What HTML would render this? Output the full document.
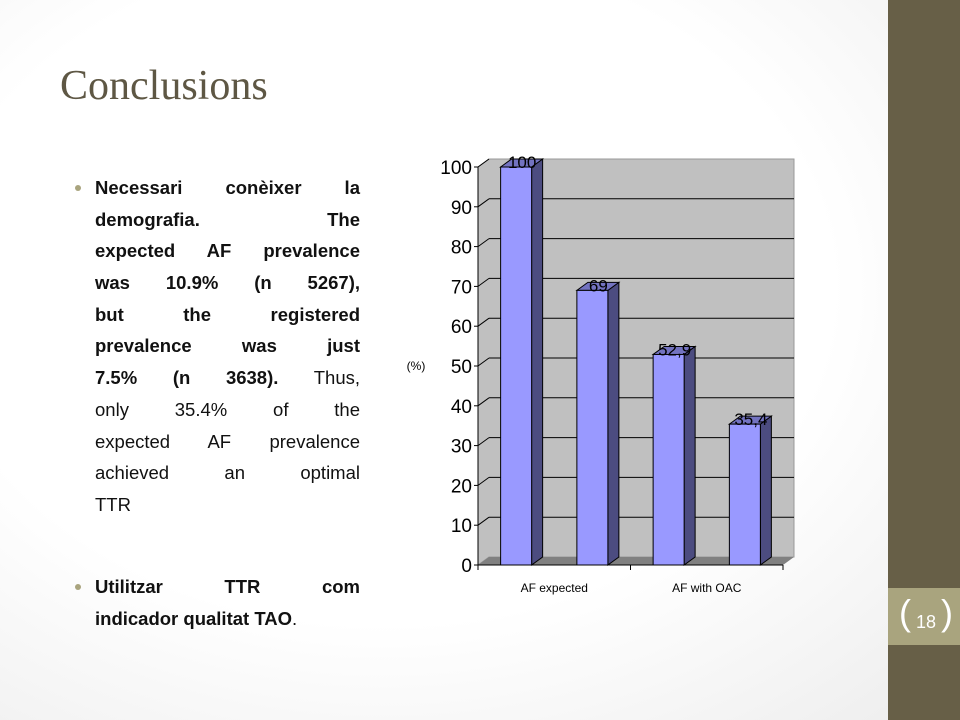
<!DOCTYPE html>
<html><head><meta charset="utf-8"><style>
body{margin:0;width:960px;height:720px;overflow:hidden;font-family:"Liberation Sans",sans-serif}
#slide{position:relative;width:960px;height:720px;background:radial-gradient(ellipse at 40% 40%,#ffffff 55%,#ececec 100%)}
#side{position:absolute;left:888px;top:0;width:72px;height:720px;background:#675f47}
#band{position:absolute;left:888px;top:588px;width:72px;height:57px;background:#a9a47e}
#num{position:absolute;left:898px;top:596px;width:56px;height:40px;color:#fff;font-size:18px;text-align:center;line-height:40px}
#title{position:absolute;left:60px;top:62px;font-family:"Liberation Serif",serif;font-size:42px;color:#5e5744}
.txt{position:absolute;left:95px;width:265px;font-weight:bold;font-size:18.5px;color:#111}
.l{height:31.7px;line-height:31.7px;text-align:justify;text-align-last:justify;white-space:nowrap}
.last{text-align-last:left}
.b{position:absolute;left:75px;width:6px;height:6px;border-radius:3px;background:#a9a47e}
</style></head><body>
<div id="slide">
<div id="title">Conclusions</div>
<div class="b" style="top:185px"></div>
<div class="txt" style="top:172px">
<div class="l">Necessari conèixer la</div>
<div class="l">demografia. The</div>
<div class="l">expected AF prevalence</div>
<div class="l">was 10.9% (n 5267),</div>
<div class="l">but the registered</div>
<div class="l">prevalence was just</div>
<div class="l" style="font-weight:normal"><b>7.5% (n 3638).</b> Thus,</div>
<div class="l" style="font-weight:normal">only 35.4% of the</div>
<div class="l" style="font-weight:normal">expected AF prevalence</div>
<div class="l" style="font-weight:normal">achieved an optimal</div>
<div class="l last" style="font-weight:normal">TTR</div>
</div>
<div class="b" style="top:584px"></div>
<div class="txt" style="top:571px">
<div class="l">Utilitzar TTR com</div>
<div class="l last">indicador qualitat TAO<span style="font-weight:normal">.</span></div>
</div>
<svg id="chart" width="960" height="720" style="position:absolute;left:0;top:0"></svg>
<div id="side"></div>
<div id="band"></div>
<div id="num"><span style="font-size:36px;font-weight:100;position:relative;top:-3px">(</span> 18 <span style="font-size:36px;font-weight:100;position:relative;top:-3px">)</span></div>
</div>
<script>
const values=[100,69,52.9,35.4];
const labels=["100","69","52,9","35,4"];
const categories=["AF expected","AF with OAC"];
const ticks=[0,10,20,30,40,50,60,70,80,90,100];
const svg=document.getElementById('chart');const NS="http://www.w3.org/2000/svg";
const x0=478,x1=783,y0=565,yTop=167,dx=11,dy=-8;
const y=v=>y0-(v/100)*(y0-yTop);
function mk(t,a,p){const e=document.createElementNS(NS,t);for(const k in a)e.setAttribute(k,a[k]);(p||svg).appendChild(e);return e;}
let w=mk('polygon',{points:`${x0},${y0} ${x0},${yTop} ${x0+dx},${yTop+dy} ${x1+dx},${yTop+dy} ${x1+dx},${y0+dy} ${x0+dx},${y0+dy}`,fill:'#c0c0c0',stroke:'#999'});


ticks.forEach(t=>{
 if(t>0&&t<100){let g=mk('line',{x1:x0+dx,x2:x1+dx,y1:y(t)+dy,y2:y(t)+dy,stroke:'#000','stroke-width':1});
 
 }
 if(t>0)mk('line',{x1:x0,x2:x0+dx,y1:y(t),y2:y(t)+dy,stroke:'#000'});
 mk('line',{x1:x0-4,x2:x0,y1:y(t),y2:y(t),stroke:'#000'});
 let tx=mk('text',{x:x0-6,y:y(t)+7,'text-anchor':'end','font-size':19,fill:'#000'});tx.textContent=t;
 
 
});
let f=mk('polygon',{points:`${x0},${y0} ${x0+dx},${y0+dy} ${x1+dx},${y0+dy} ${x1},${y0}`,fill:'#808080'});


mk('line',{x1:x0,x2:x0,y1:yTop,y2:y0,stroke:'#000'});
mk('line',{x1:x0,x2:x1,y1:y0,y2:y0,stroke:'#000'});
const slot=(x1-x0)/4,bw=31;
[x0,x0+slot*2,x1].forEach(xx=>mk('line',{x1:xx,x2:xx,y1:y0,y2:y0+5,stroke:'#000'}));
values.forEach((v,i)=>{
 const bx=x0+slot*i+(slot-bw)/2,by=y(v);
 const g=mk('g',{});
 
 
 mk('polygon',{points:`${bx+bw},${by} ${bx+bw+dx},${by+dy} ${bx+bw+dx},${y0+dy} ${bx+bw},${y0}`,fill:'#4c4c80',stroke:'#000'},g);
 mk('polygon',{points:`${bx},${by} ${bx+dx},${by+dy} ${bx+bw+dx},${by+dy} ${bx+bw},${by}`,fill:'#7373c0',stroke:'#000'},g);
 mk('rect',{x:bx,y:by,width:bw,height:y0-by,fill:'#9999ff',stroke:'#000'},g);
 const t=mk('text',{x:bx+bw/2+6,y:by+1,'text-anchor':'middle','font-size':17,fill:'#000'});t.textContent=labels[i];
 
 
});
categories.forEach((c,i)=>{const t=mk('text',{x:x0+slot*(2*i+1),y:592,'text-anchor':'middle','font-size':12,fill:'#000'});t.textContent=c;
 
 });
const yt=mk('text',{x:416,y:370,'text-anchor':'middle','font-size':12,fill:'#000'});yt.textContent='(%)';


</script>
</body></html>
